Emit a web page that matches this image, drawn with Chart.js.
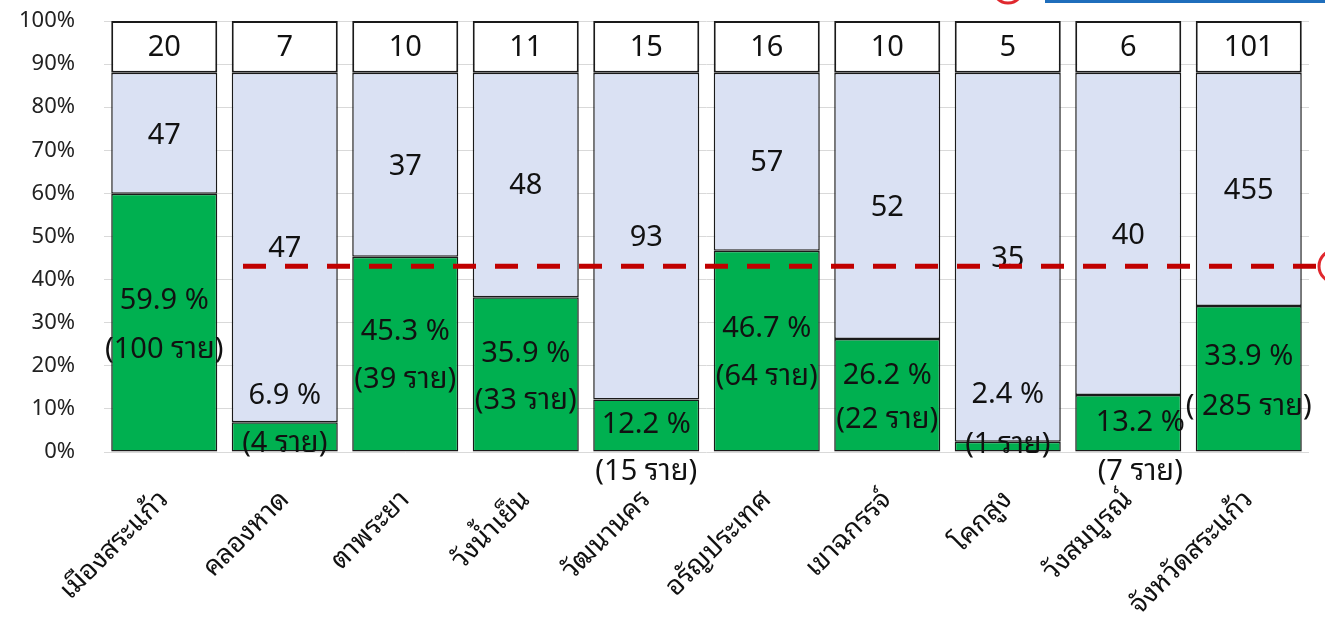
<!DOCTYPE html>
<html>
<head>
<meta charset="utf-8">
<script src="https://cdn.jsdelivr.net/npm/chart.js@4.4.1/dist/chart.umd.min.js"></script>
<style>
  html, body { margin: 0; padding: 0; background: #ffffff; }
  #wrap { width: 1325px; height: 624px; position: relative; }
</style>
</head>
<body>
<div id="wrap"><canvas id="c" width="1325" height="624"></canvas></div>
<script>
// ---- data ----
const categories = ['เมืองสระแก้ว', 'คลองหาด', 'ตาพระยา', 'วังน้ำเย็น', 'วัฒนานคร', 'อรัญประเทศ', 'เขาฉกรรจ์', 'โคกสูง', 'วังสมบูรณ์', 'จังหวัดสระแก้ว'];
const greenPct    = [59.9, 6.9, 45.3, 35.9, 12.2, 46.7, 26.2, 2.4, 13.2, 33.9];
const lavenderPct = [28.1, 81.1, 42.7, 52.1, 75.8, 41.3, 61.8, 85.6, 74.8, 54.1];
const whitePct    = [12, 12, 12, 12, 12, 12, 12, 12, 12, 12];
const topCounts   = [20, 7, 10, 11, 15, 16, 10, 5, 6, 101];
const midCounts   = [47, 47, 37, 48, 93, 57, 52, 35, 40, 455];
const caseLabels  = ['(100 ราย)', '(4 ราย)', '(39 ราย)', '(33 ราย)', '(15 ราย)', '(64 ราย)', '(22 ราย)', '(1 ราย)', '(7 ราย)', '( 285 ราย)'];
const targetPct   = 43.1;
const yTicks      = [0, 10, 20, 30, 40, 50, 60, 70, 80, 90, 100];

// ---- label placement (axis units), kept apart from data ----
const topLabelY  = 93.8;
const midLabelY  = [73.4, 47.2, 66.2, 61.8, 49.8, 67.1, 56.7, 44.9, 50.2, 60.6];
const pctLabelY  = [35.2, 13.0, 27.8, 22.9, 6.3, 28.7, 17.8, 13.2, 6.9, 22.0];
const caseLabelY = [23.8, 2.0, 16.7, 12.0, -4.6, 17.4, 7.4, 1.6, -4.6, 10.4];
const labelDX    = [0, 0, 0, 0, 0, 0, 0, 0, 12, 0];

const FONT = "'Noto Sans Thai Looped', 'Leelawadee UI', 'Tahoma', 'Loma', 'Garuda', 'Noto Sans', 'Noto Sans Thai', sans-serif";
const NUMFONT = "'Noto Sans', 'Noto Sans Thai Looped', 'Loma', 'Noto Sans Thai', sans-serif";

const labelPlugin = {
  id: 'labels',
  afterDatasetsDraw(chart) {
    const ctx = chart.ctx;
    const y = chart.scales.y;
    const meta = chart.getDatasetMeta(0);
    ctx.save();
    ctx.fillStyle = '#111111';
    ctx.textAlign = 'center';
    ctx.textBaseline = 'middle';
    ctx.font = '29px ' + NUMFONT;
    meta.data.forEach((bar, i) => {
      const x = bar.x;
      ctx.fillText(String(topCounts[i]), x, y.getPixelForValue(topLabelY));
      ctx.fillText(String(midCounts[i]), x, y.getPixelForValue(midLabelY[i]));
      ctx.fillText(greenPct[i].toFixed(1) + ' %', x + labelDX[i], y.getPixelForValue(pctLabelY[i]));
      ctx.fillText(caseLabels[i], x + labelDX[i], y.getPixelForValue(caseLabelY[i]));
    });
    // target dashed line
    const ty = y.getPixelForValue(targetPct);
    ctx.strokeStyle = '#C00000';
    ctx.lineWidth = 5;
    ctx.setLineDash([23, 19]);
    ctx.beginPath();
    ctx.moveTo(243, ty);
    ctx.lineTo(1322, ty);
    ctx.stroke();
    ctx.setLineDash([]);
    // decorative circle at right end
    ctx.strokeStyle = '#E0282E';
    ctx.lineWidth = 3;
    ctx.beginPath();
    ctx.arc(1335, ty, 16, 0, Math.PI * 2);
    ctx.stroke();
    // top-right decorations (cropped)
    ctx.beginPath();
    ctx.arc(1008, -12, 15, 0, Math.PI * 2);
    ctx.stroke();
    ctx.fillStyle = '#1F6EBC';
    ctx.fillRect(1045, 0, 280, 3);
    ctx.restore();
  }
};

const common = { borderColor: '#1a1a1a', borderSkipped: false, barPercentage: 0.88, categoryPercentage: 1.0 };

new Chart(document.getElementById('c'), {
  type: 'bar',
  data: {
    labels: categories,
    datasets: [
      Object.assign({ label: 'green', data: greenPct, backgroundColor: '#00B050', borderWidth: 1.5 }, common),
      Object.assign({ label: 'lavender', data: lavenderPct, backgroundColor: '#DAE1F3', borderWidth: 1.5 }, common),
      Object.assign({ label: 'white', data: whitePct, backgroundColor: '#FFFFFF', borderWidth: 2 }, common)
    ]
  },
  options: {
    responsive: false,
    animation: false,
    devicePixelRatio: 1,
    layout: { padding: { top: 21, right: 16, left: 0, bottom: 0 } },
    plugins: { legend: { display: false }, tooltip: { enabled: false } },
    scales: {
      x: {
        stacked: true,
        grid: { display: false },
        border: { display: false },
        ticks: {
          color: '#111111',
          font: { family: FONT, size: 27 },
          maxRotation: 45, minRotation: 45,
          autoSkip: false,
          padding: 24
        },
        afterFit(s) { s.height = 172; }
      },
      y: {
        stacked: true,
        min: 0, max: 100,
        afterBuildTicks(s) { s.ticks = yTicks.map(v => ({ value: v })); },
        grid: { color: '#D9D9D9', lineWidth: 1, drawTicks: true, tickLength: 22, tickColor: 'rgba(0,0,0,0)' },
        border: { display: false },
        ticks: {
          color: '#222222',
          font: { family: NUMFONT, size: 22 },
          padding: 7,
          callback: v => v + '%'
        },
        afterFit(s) { s.width = 104; }
      }
    }
  },
  plugins: [labelPlugin]
});
</script>
</body>
</html>
